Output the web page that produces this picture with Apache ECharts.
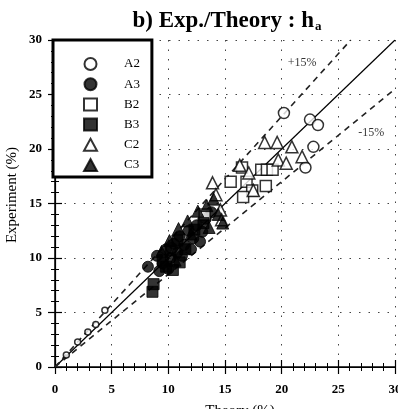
<!DOCTYPE html>
<html>
<head>
<meta charset="utf-8">
<script src="https://cdn.jsdelivr.net/npm/echarts@6/dist/echarts.min.js"></script>
<style>
html,body{margin:0;padding:0;background:#fff;}
#c{width:398px;height:409px;}
</style>
</head>
<body>
<div id="c"></div>
<script>
// ---- data (Theory %, Experiment %) ----
var seriesNames = ['A2', 'A3', 'B2', 'B3', 'C2', 'C3'];
var xTicks = [0, 5, 10, 15, 20, 25, 30];
var yTicks = [0, 5, 10, 15, 20, 25, 30];

var a2 = [[20.2, 23.3], [22.5, 22.7], [23.2, 22.2], [22.8, 20.2], [22.1, 18.3], [10.3, 10.9]];
var a2Small = [[1.0, 1.1], [2.0, 2.3], [2.9, 3.2], [3.6, 3.9], [4.4, 5.2]];
var a3 = [[8.2, 9.2], [9.0, 10.2], [9.5, 9.5], [9.8, 10.8], [10.2, 10.0], [10.5, 11.3],
          [10.8, 10.5], [11.0, 12.0], [11.4, 11.2], [11.8, 12.5], [12.2, 11.8], [12.5, 13.0],
          [13.0, 12.4], [13.3, 13.6], [13.8, 14.2], [10.0, 9.0], [9.2, 8.8], [11.2, 10.2],
          [12.0, 10.8], [12.8, 11.5]];
var b2 = [[15.5, 17.0], [16.5, 18.3], [16.9, 17.0], [17.4, 16.2], [18.2, 18.1], [18.7, 18.1],
          [19.2, 18.1], [18.6, 16.6], [16.6, 15.6], [13.2, 14.0]];
var b3 = [[8.6, 6.9], [8.7, 7.6], [9.5, 9.8], [10.2, 10.7], [10.8, 11.6], [11.5, 10.8],
          [12.3, 12.6], [13.1, 13.2], [9.8, 9.2], [11.0, 9.6], [10.4, 8.9]];
var c2 = [[13.9, 16.9], [14.2, 15.8], [14.6, 14.4], [14.7, 13.5], [16.3, 18.5], [17.5, 16.2],
          [17.1, 17.8], [18.5, 20.6], [19.6, 20.6], [20.9, 20.2], [19.7, 19.0], [20.4, 18.7],
          [21.8, 19.3]];
var c3 = [[9.4, 10.6], [10.1, 11.6], [10.9, 12.7], [11.7, 13.4], [12.6, 14.3], [13.4, 14.8],
          [14.0, 15.4], [14.4, 14.0], [13.6, 12.8], [12.0, 12.2], [10.6, 9.8], [14.8, 13.2]];

var lineEqual = [[0, 0], [30, 30]];
var linePlus = [[0, 0], [26.1, 30]];
var lineMinus = [[0, 0], [30, 25.5]];
var plusLabelPos = [21.8, 27.9];
var minusLabelPos = [27.9, 21.5];

var serif = '"Liberation Serif","DejaVu Serif","Times New Roman",serif';
var chart = echarts.init(document.getElementById('c'));

function openStyle() { return { color: '#fff', borderColor: '#000', borderWidth: 1.5 }; }
function fillStyle() { return { color: '#000', borderColor: '#000', borderWidth: 1 }; }

var tickLine = { color: '#000', width: 1.2 };
var split = { show: true, lineStyle: { color: '#444', width: 1, type: [1.5, 8] } };

var option = {
  backgroundColor: '#fff',
  animation: false,
  title: {
    text: '{t|b) Exp./Theory : h}{s|a}',
    left: 222, top: 5, textAlign: 'center',
    textStyle: {
      rich: {
        t: { fontFamily: serif, fontWeight: 'bold', fontSize: 23, color: '#000' },
        s: { fontFamily: serif, fontWeight: 'bold', fontSize: 13, color: '#000', verticalAlign: 'bottom', padding: [9, 0, 0, 1] }
      }
    }
  },
  grid: { left: 55, right: 3, top: 40, bottom: 42, containLabel: false, outerBoundsMode: 'none' },
  legend: {
    orient: 'vertical',
    left: 53, top: 40,
    data: seriesNames,
    itemWidth: 13, itemHeight: 12, itemGap: 6.2,
    padding: [17, 12, 5, 30],
    borderColor: '#000', borderWidth: 3,
    backgroundColor: '#fff',
    textStyle: { fontFamily: serif, fontSize: 13, color: '#000', padding: [0, 0, 0, 22] }
  },
  xAxis: [{
    type: 'value', min: 0, max: 30, interval: 5,
    axisLine: { show: true, onZero: false, lineStyle: { color: '#000', width: 1.5 } },
    axisTick: { show: true, inside: true, length: 7, lineStyle: tickLine },
    minorTick: { show: true, splitNumber: 5, length: 4, lineStyle: { color: '#000', width: 1 } },
    splitLine: split,
    axisLabel: { fontFamily: serif, fontWeight: 'bold', fontSize: 13, color: '#000', margin: 16,
      hideOverlap: false,
      formatter: function (v) { return xTicks.indexOf(v) >= 0 ? String(v) : ''; } }
  }, {
    type: 'value', min: 0, max: 30, interval: 5, position: 'top',
    axisLine: { show: true, lineStyle: { color: '#000', width: 1.2 } },
    axisTick: { show: true, inside: true, length: 7, lineStyle: tickLine },
    minorTick: { show: true, splitNumber: 5, length: 4, lineStyle: { color: '#000', width: 1 } },
    splitLine: { show: false }, axisLabel: { show: false }
  }],
  yAxis: [{
    type: 'value', min: 0, max: 30, interval: 5,
    axisLine: { show: true, onZero: false, lineStyle: { color: '#000', width: 1.5 } },
    axisTick: { show: true, inside: true, length: 7, lineStyle: tickLine },
    minorTick: { show: true, splitNumber: 5, length: 4, lineStyle: { color: '#000', width: 1 } },
    splitLine: split,
    axisLabel: { fontFamily: serif, fontWeight: 'bold', fontSize: 13, color: '#000', margin: 13,
      formatter: function (v) { return yTicks.indexOf(v) >= 0 ? String(v) : ''; } }
  }, {
    type: 'value', min: 0, max: 30, interval: 5, position: 'right',
    axisLine: { show: true, lineStyle: { color: '#000', width: 1.2 } },
    axisTick: { show: true, inside: true, length: 7, lineStyle: tickLine },
    minorTick: { show: true, splitNumber: 5, length: 4, lineStyle: { color: '#000', width: 1 } },
    splitLine: { show: false }, axisLabel: { show: false }
  }],
  graphic: [{
    type: 'text', rotation: Math.PI / 2,
    x: 12, y: 195,
    style: { text: 'Experiment (%)', font: '15px ' + serif, fill: '#000', textAlign: 'center', textVerticalAlign: 'middle' }
  }, {
    type: 'text', x: 240, y: 411,
    style: { text: 'Theory (%)', font: '15px ' + serif, fill: '#000', textAlign: 'center', textVerticalAlign: 'middle' }
  }],
  series: [
    { type: 'line', data: lineEqual, symbol: 'none', silent: true, z: 1,
      lineStyle: { color: '#000', width: 1.2 } },
    { type: 'line', data: linePlus, symbol: 'none', silent: true, z: 1,
      lineStyle: { color: '#222', width: 1.6, type: [6, 5] } },
    { type: 'line', data: lineMinus, symbol: 'none', silent: true, z: 1,
      lineStyle: { color: '#222', width: 1.6, type: [6, 5] } },
    { type: 'scatter', data: [plusLabelPos], symbolSize: 0, silent: true,
      label: { show: true, formatter: '+15%', position: 'inside', fontFamily: serif, fontSize: 12, color: '#000' } },
    { type: 'scatter', data: [minusLabelPos], symbolSize: 0, silent: true,
      label: { show: true, formatter: '-15%', position: 'inside', fontFamily: serif, fontSize: 12, color: '#000' } },
    { name: 'A2', type: 'scatter', data: a2, symbol: 'circle', symbolSize: 11, itemStyle: openStyle(), z: 5 },
    { name: 'A2', type: 'scatter', data: a2Small, symbol: 'circle', symbolSize: 6, itemStyle: openStyle(), z: 5 },
    { name: 'A3', type: 'scatter', data: a3, symbol: 'circle', symbolSize: 11, itemStyle: fillStyle(), z: 5 },
    { name: 'B2', type: 'scatter', data: b2, symbol: 'rect', symbolSize: 11, itemStyle: openStyle(), z: 5 },
    { name: 'B3', type: 'scatter', data: b3, symbol: 'rect', symbolSize: 11, itemStyle: fillStyle(), z: 5 },
    { name: 'C2', type: 'scatter', data: c2, symbol: 'triangle', symbolSize: 12, itemStyle: openStyle(), z: 5 },
    { name: 'C3', type: 'scatter', data: c3, symbol: 'triangle', symbolSize: 12, itemStyle: fillStyle(), z: 5 }
  ]
};
chart.setOption(option);
</script>
</body>
</html>
